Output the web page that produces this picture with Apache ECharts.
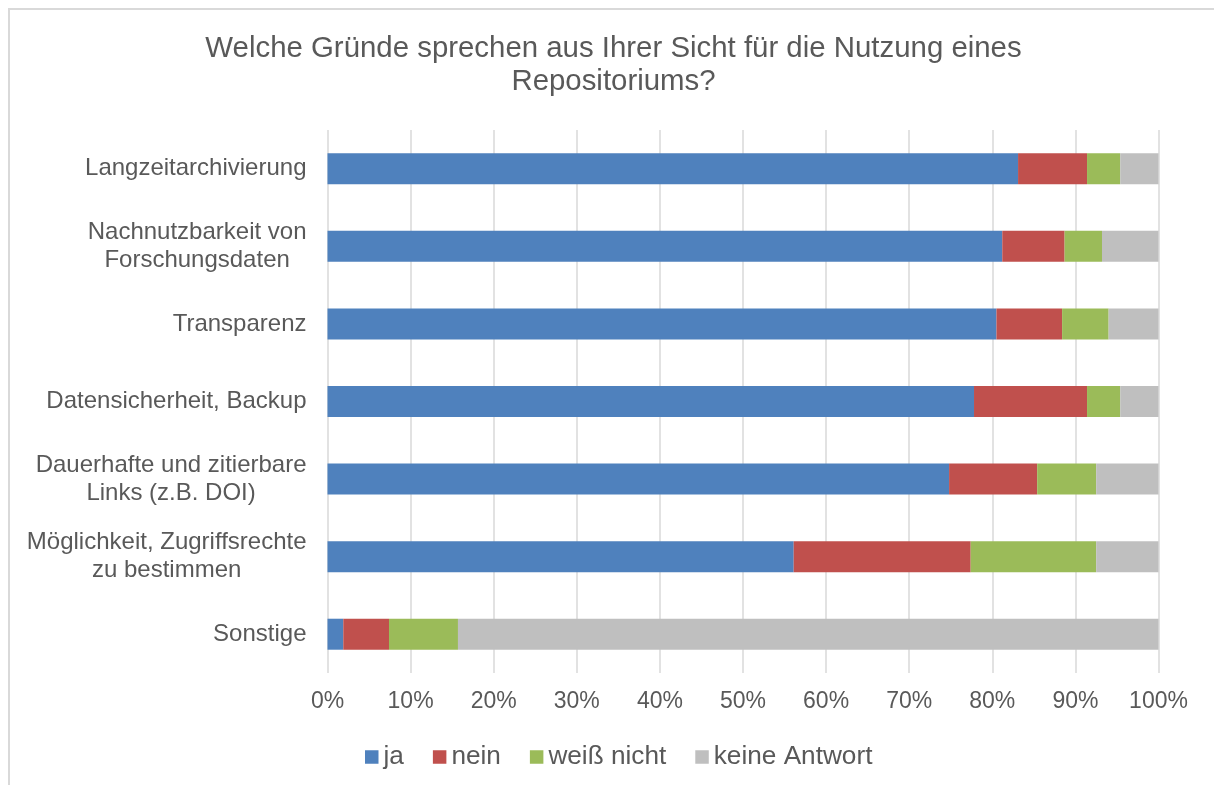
<!DOCTYPE html>
<html>
<head>
<meta charset="utf-8">
<script src="https://cdn.jsdelivr.net/npm/echarts@6/dist/echarts.min.js"></script>
<style>
  html, body { margin: 0; padding: 0; background: #fff; overflow: hidden; }
  #frame { position: absolute; left: 8px; top: 8px; width: 1300px; height: 900px; border: 2px solid #d9d9d9; }
  #main { position: absolute; left: 0; top: 0; width: 1214px; height: 785px; }
</style>
</head>
<body>
<div id="frame"></div>
<div id="main"></div>
<script>
// Kategorien (von oben nach unten)
var categories = [
  'Langzeitarchivierung',
  'Nachnutzbarkeit von\nForschungsdaten',
  'Transparenz',
  'Datensicherheit, Backup',
  'Dauerhafte und zitierbare\nLinks (z.B. DOI)',
  'Möglichkeit, Zugriffsrechte\nzu bestimmen',
  'Sonstige'
];
// Anteile in %
var ja = [83.1, 81.2, 80.5, 77.8, 74.8, 56.1, 1.9];
var nein = [8.3, 7.5, 7.9, 13.6, 10.6, 21.3, 5.5];
var weissNicht = [4.0, 4.5, 5.6, 4.0, 7.1, 15.1, 8.3];
var keineAntwort = [4.6, 6.8, 6.0, 4.6, 7.5, 7.5, 84.3];
var xTicks = [0, 10, 20, 30, 40, 50, 60, 70, 80, 90, 100];

var txt = '#595959';
var font = '"Liberation Sans", Arial, sans-serif';

var chart = echarts.init(document.getElementById('main'), null, { renderer: 'canvas' });

function bar(name, data, color) {
  return {
    name: name,
    type: 'bar',
    stack: 'gesamt',
    barWidth: 31,
    data: data,
    itemStyle: { color: color },
    emphasis: { disabled: true }
  };
}

var option = {
  animation: false,
  textStyle: { fontFamily: font },
  title: {
    text: 'Welche Gründe sprechen aus Ihrer Sicht für die Nutzung eines\nRepositoriums?',
    left: 613.5,
    top: 33,
    padding: 0,
    textAlign: 'center',
    textStyle: { fontFamily: font, fontSize: 29.4, fontWeight: 'normal', color: txt, lineHeight: 32.5 }
  },
  legend: {
    left: 365,
    top: 743,
    padding: 0,
    icon: 'rect',
    itemWidth: 13.5,
    itemHeight: 13.5,
    itemGap: 29,
    selectedMode: false,
    textStyle: { fontFamily: font, fontSize: 26.2, color: txt, lineHeight: 28 },
    data: ['ja', 'nein', 'weiß nicht', 'keine Antwort']
  },
  grid: { left: 327.5, right: 55.5, top: 130, bottom: 112 },
  xAxis: {
    type: 'value',
    min: xTicks[0],
    max: xTicks[xTicks.length - 1],
    interval: 10,
    axisLine: { show: false },
    axisTick: { show: false },
    splitLine: { show: true, lineStyle: { color: '#d9d9d9', width: 1.5 } },
    axisLabel: {
      formatter: '{value}%',
      fontFamily: font, fontSize: 23, color: txt, margin: 17, lineHeight: 24
    }
  },
  yAxis: {
    type: 'category',
    inverse: true,
    data: categories,
    axisLine: { show: false },
    axisTick: { show: false },
    axisLabel: {
      margin: 21,
      formatter: function (v) {
        return v.split('\n').map(function (s) { return '{c|' + s + '}'; }).join('\n');
      },
      rich: {
        c: { align: 'center', fontFamily: font, fontSize: 24, lineHeight: 28, color: txt }
      }
    }
  },
  series: [
    bar('ja', ja, '#4F81BD'),
    bar('nein', nein, '#C0504D'),
    bar('weiß nicht', weissNicht, '#9BBB59'),
    bar('keine Antwort', keineAntwort, '#BFBFBF')
  ]
};

chart.setOption(option);
</script>
</body>
</html>
